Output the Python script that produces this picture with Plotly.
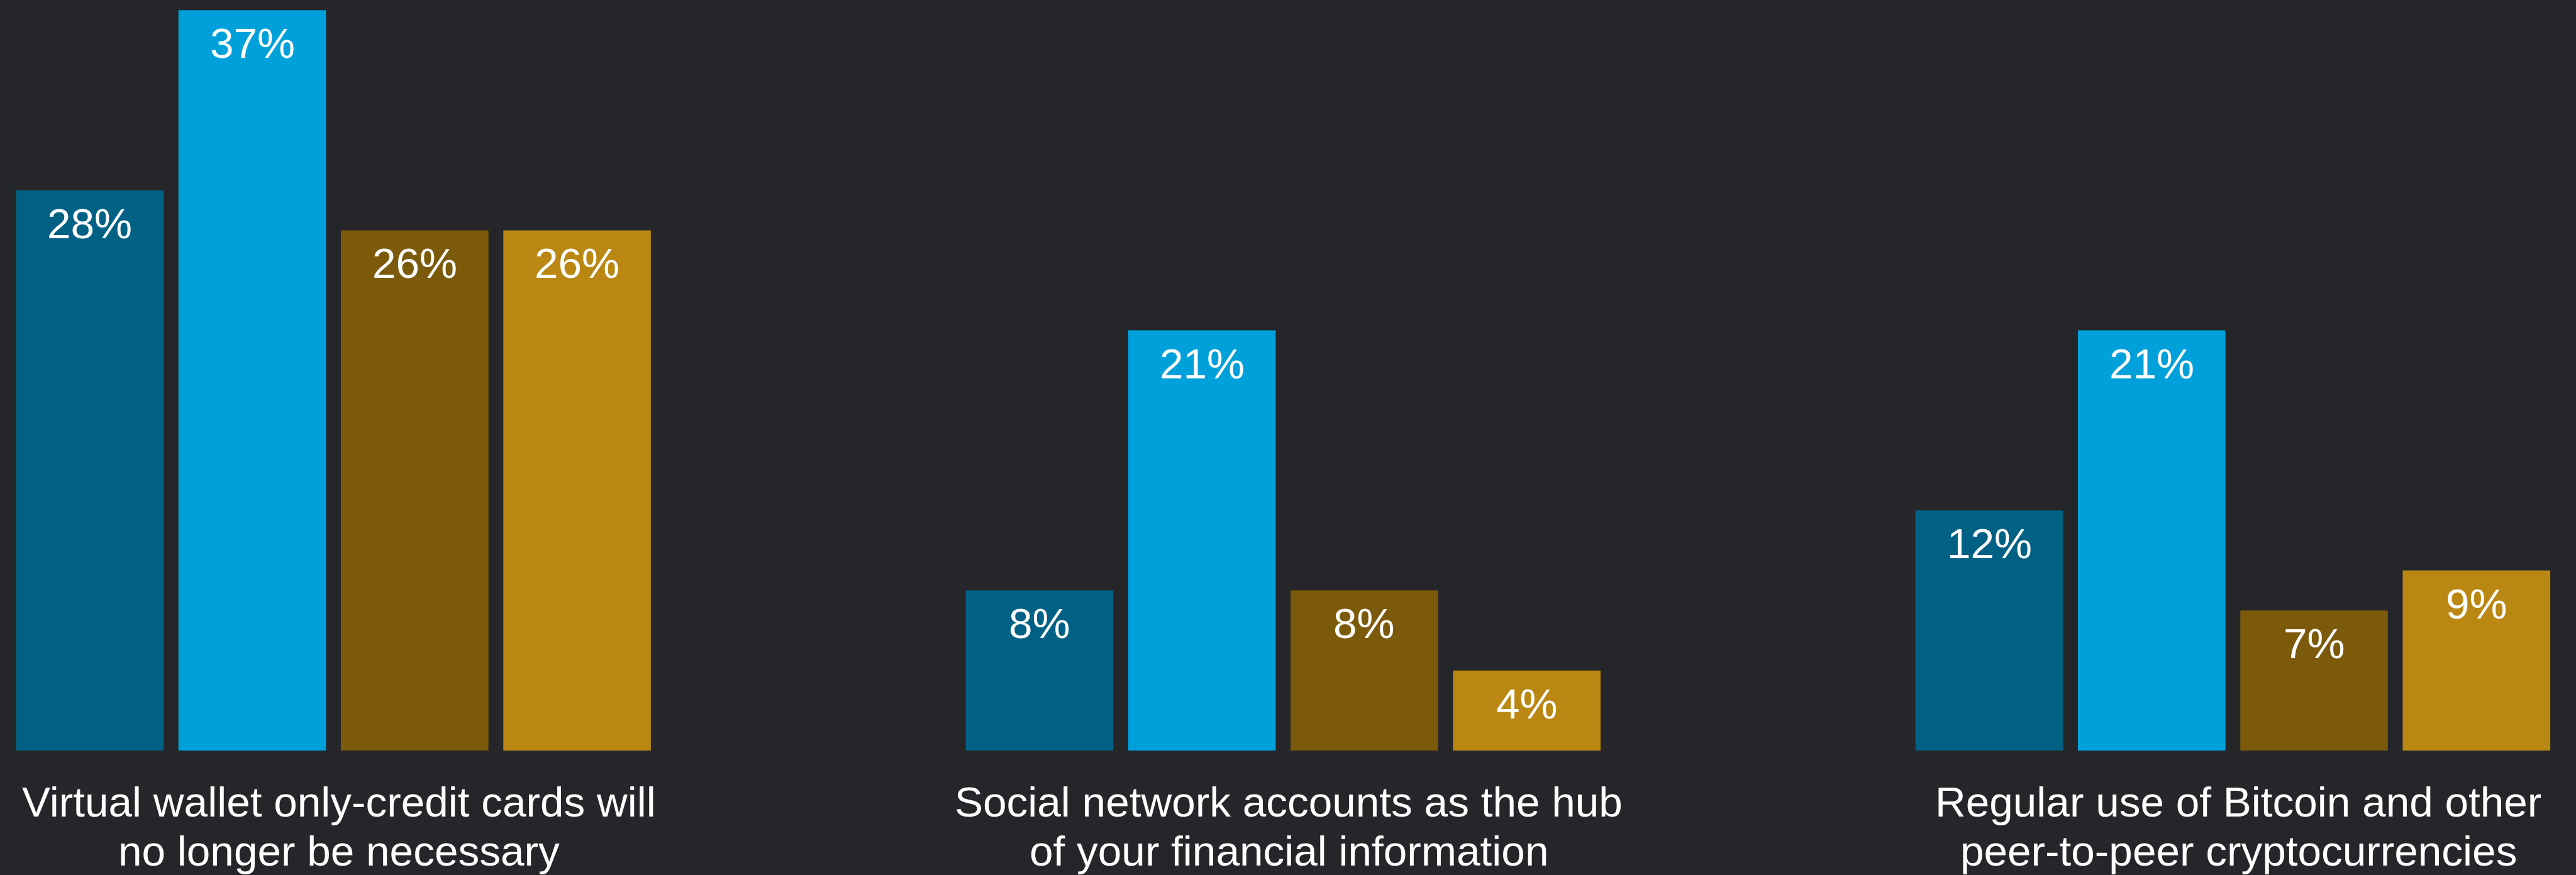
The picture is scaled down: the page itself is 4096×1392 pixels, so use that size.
import plotly.graph_objects as go

# Survey statements (x categories), one line per list entry
categories = [
    "Virtual wallet only-credit cards will<br>no longer be necessary",
    "Social network accounts as the hub<br>of your financial information",
    "Regular use of Bitcoin and other<br>peer-to-peer cryptocurrencies",
]

# Respondent segments and their shares (%)
series_names = ["Segment 1", "Segment 2", "Segment 3", "Segment 4"]
series_values = [
    [28, 8, 12],
    [37, 21, 21],
    [26, 8, 7],
    [26, 4, 9],
]
series_colors = ["#006185", "#00A0DA", "#7C5A0B", "#BA8712"]

BG = "#252629"
FONT = "Liberation Sans, Arial, sans-serif"
FONT_SIZE = 67.5
BARGAP = 0.3159
BARGROUPGAP = 0.0915

fig = go.Figure()
for name, vals, color in zip(series_names, series_values, series_colors):
    fig.add_trace(go.Bar(
        x=list(range(len(categories))),
        y=vals,
        name=name,
        marker=dict(color=color, line=dict(width=0)),
        hoverinfo="skip",
    ))

annotations = []
n_series = len(series_names)
slot = (1 - BARGAP) / n_series
# value labels just inside the top of each bar
for i, vals in enumerate(series_values):
    for j, v in enumerate(vals):
        annotations.append(dict(
            x=j + (i - (n_series - 1) / 2) * slot,
            y=v,
            xref="x", yref="y",
            text=f"{v}%",
            showarrow=False,
            yanchor="top",
            xanchor="center",
            yshift=-13,
            font=dict(family=FONT, size=FONT_SIZE, color="white"),
        ))

# category captions below the bars, two lines each
for j, label in enumerate(categories):
    for k, line in enumerate(label.split("<br>")):
        annotations.append(dict(
            x=j, y=0,
            xref="x", yref="paper",
            text=line,
            showarrow=False,
            yanchor="top",
            xanchor="center",
            xshift=9,
            yshift=-42 - 78 * k,
            font=dict(family=FONT, size=FONT_SIZE, color="white"),
        ))

fig.update_layout(
    width=4096,
    height=1392,
    barmode="group",
    bargap=BARGAP,
    bargroupgap=BARGROUPGAP,
    paper_bgcolor=BG,
    plot_bgcolor=BG,
    showlegend=False,
    margin=dict(l=0, r=0, t=0, b=198, pad=0, autoexpand=False),
    xaxis=dict(range=[-0.3511, 2.3613], showticklabels=False, showgrid=False,
               zeroline=False, showline=False, ticks=""),
    yaxis=dict(range=[0, 37.51], showticklabels=False, showgrid=False,
               zeroline=False, showline=False, ticks=""),
    annotations=annotations,
    font=dict(family=FONT, color="white"),
)

fig.write_html("out.html", config={"displayModeBar": False})
